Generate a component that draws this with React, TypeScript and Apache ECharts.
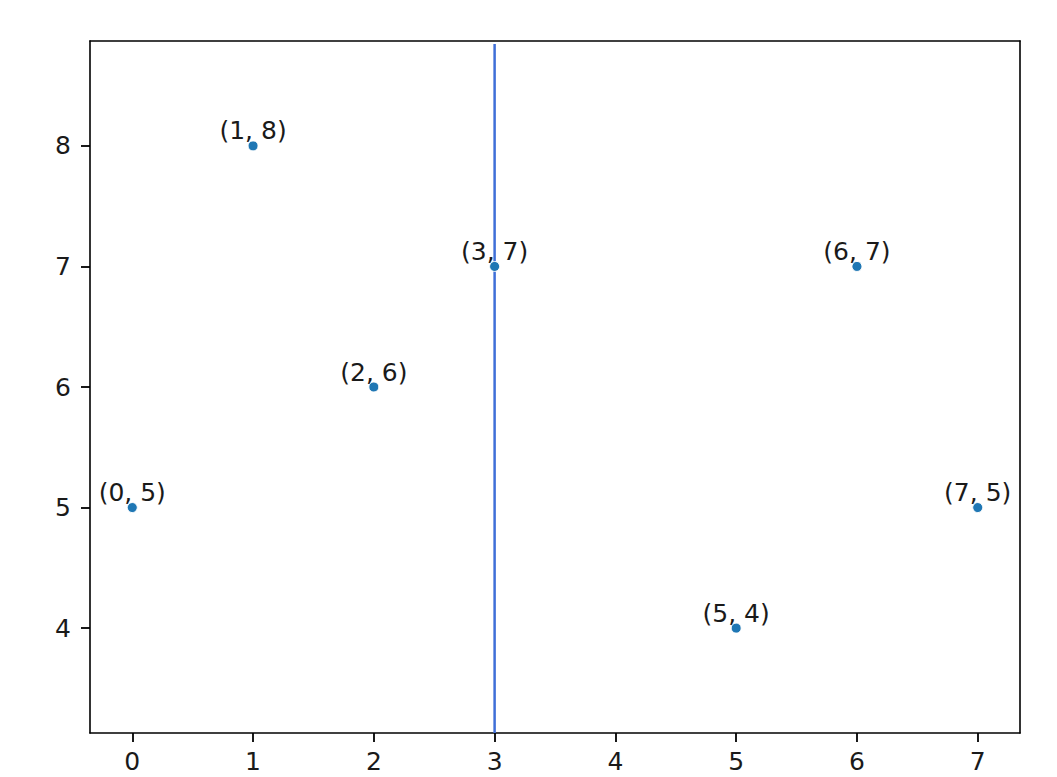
import React, { useEffect, useRef } from "react";
import * as echarts from "echarts";

const xValues = [0, 1, 2, 3, 5, 6, 7];
const yValues = [5, 8, 6, 7, 4, 7, 5];
const xTicks = [0, 1, 2, 3, 4, 5, 6, 7];
const yTicks = [4, 5, 6, 7, 8];
const vlineX = 3;
const vlineY = [3.13, 8.845];
const xRange = [-0.35, 7.35];
const yRange = [3.13, 8.87];

const FONT = "DejaVu Sans";
const TICK_LEN = 9;
const FRAME_W = 1.6;

export default function App() {
  const ref = useRef<HTMLDivElement>(null);
  useEffect(() => {
    const chart = echarts.init(ref.current!, null, { renderer: "svg" });
    const points = xValues.map((x, i) => [x, yValues[i]]);
    const frameAxis = {
      type: "value",
      splitLine: { show: false },
      axisLine: { show: true, onZero: false, lineStyle: { color: "#000", width: FRAME_W } },
      axisTick: { show: false },
      axisLabel: { show: false },
    };
    chart.setOption({
      animation: false,
      backgroundColor: "#ffffff",
      grid: { left: 90, right: 37, top: 41, bottom: 44 },
      xAxis: [
        {
          type: "value",
          position: "bottom",
          min: xRange[0],
          max: xRange[1],
          splitLine: { show: false },
          axisLine: { show: true, onZero: false, lineStyle: { color: "#000", width: FRAME_W } },
          axisTick: {
            show: true,
            customValues: xTicks,
            length: TICK_LEN,
            lineStyle: { color: "#000", width: 1.8 },
          },
          axisLabel: {
            customValues: xTicks,
            color: "#1a1a1a",
            fontFamily: FONT,
            fontSize: 25,
            margin: 16,
            formatter: (v: number) => String(v),
          },
        },
        { ...frameAxis, position: "top", min: xRange[0], max: xRange[1] },
      ],
      yAxis: [
        {
          type: "value",
          position: "left",
          min: yRange[0],
          max: yRange[1],
          splitLine: { show: false },
          axisLine: { show: true, onZero: false, lineStyle: { color: "#000", width: FRAME_W } },
          axisTick: {
            show: true,
            customValues: yTicks,
            length: TICK_LEN,
            lineStyle: { color: "#000", width: 1.8 },
          },
          axisLabel: {
            customValues: yTicks,
            color: "#1a1a1a",
            fontFamily: FONT,
            fontSize: 25,
            margin: 19,
            formatter: (v: number) => String(v),
          },
        },
        { ...frameAxis, position: "right", min: yRange[0], max: yRange[1] },
      ],
      series: [
        {
          type: "line",
          data: vlineY.map((y) => [vlineX, y]),
          symbol: "none",
          lineStyle: { color: "#3f6fd8", width: 2.5 },
          z: 1,
          silent: true,
        },
        {
          type: "scatter",
          data: points,
          symbolSize: 10,
          itemStyle: { color: "#1f77b4", borderColor: "#ffffff", borderWidth: 1, opacity: 1 },
          z: 3,
          label: {
            show: true,
            position: "top",
            distance: -3,
            color: "#1a1a1a",
            fontFamily: FONT,
            fontSize: 25,
            formatter: (p: any) => `(${p.value[0]}, ${p.value[1]})`,
          },
        },
      ],
    });
    return () => chart.dispose();
  }, []);
  return (
    <div
      ref={ref}
      style={{ position: "absolute", left: 0, top: 0, width: 1057, height: 777 }}
    />
  );
}
